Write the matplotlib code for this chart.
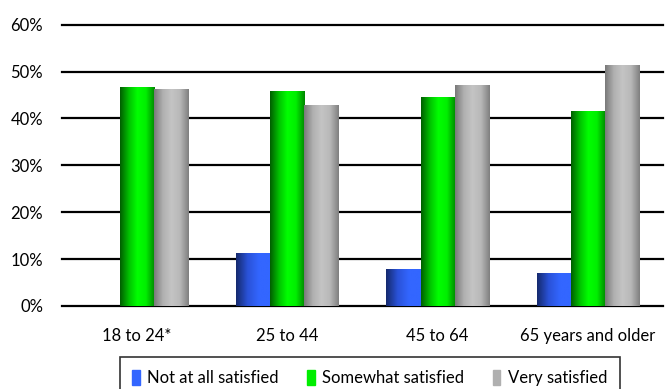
import numpy as np
import matplotlib.pyplot as plt
from matplotlib.colors import LinearSegmentedColormap
from matplotlib.patches import Rectangle

plt.rcParams['font.family'] = ['Lato', 'DejaVu Sans']

categories = ['18 to 24*', '25 to 44', '45 to 64', '65 years and older']
series_names = ['Not at all satisfied', 'Somewhat satisfied', 'Very satisfied']
not_at_all = [0.0, 11.2, 7.9, 7.0]
somewhat = [46.7, 45.9, 44.6, 41.6]
very = [46.3, 42.9, 47.1, 51.4]
yticks = [0, 10, 20, 30, 40, 50, 60]

# horizontal gradients (left -> right) to imitate the shaded bars
grads = [
    LinearSegmentedColormap.from_list('b', ['#152a6e', '#2a52d8', '#3366ff', '#3366ff']),
    LinearSegmentedColormap.from_list('g', ['#006000', '#00c000', '#00ff00', '#00ee00', '#008800']),
    LinearSegmentedColormap.from_list('k', ['#7a7a7a', '#b0b0b0', '#c4c4c4', '#b8b8b8', '#808080']),
]
flat = ['#3366ff', '#00ee00', '#b0b0b0']

fig = plt.figure(figsize=(6.65, 3.89), dpi=100)
ax = fig.add_axes([0.093, 0.2134, 0.904, 0.7256])

x = np.arange(len(categories))
w = 0.227
grad = np.linspace(0, 1, 64).reshape(1, -1)
for i, vals in enumerate([not_at_all, somewhat, very]):
    bars = ax.bar(x + (i - 1) * w, vals, width=w, color=flat[i], zorder=3, linewidth=0)
    for b in bars:
        if b.get_height() <= 0:
            continue
        x0, y0 = b.get_x(), b.get_y()
        im = ax.imshow(grad, cmap=grads[i], aspect='auto', zorder=4,
                       extent=[x0, x0 + b.get_width(), y0, y0 + b.get_height()])
        im.set_clip_path(b)

ax.set_xlim(-0.5, 3.5)
ax.set_ylim(0, 60.2)
ax.set_yticks(yticks)
ax.set_yticklabels([f'{t}%' for t in yticks])
ax.set_xticks(x)
ax.set_xticklabels(categories)
for t in yticks:
    ax.axhline(t, color='black', lw=1.6, zorder=2, clip_on=False)
for s in ax.spines.values():
    s.set_visible(False)
ax.tick_params(axis='y', length=0, pad=13.5, labelsize=12)
ax.tick_params(axis='x', length=0, pad=16, labelsize=12)

handles = [Rectangle((0, 0), 1, 1, color=flat[i]) for i in range(3)]
leg = fig.legend(handles, series_names, loc='upper center', ncol=3,
                 bbox_to_anchor=(0.556, 0.082), fontsize=12, frameon=True,
                 fancybox=False, edgecolor='black', handlelength=0.45,
                 handleheight=1.0, handletextpad=0.45, columnspacing=1.7,
                 borderpad=0.75, borderaxespad=0)
leg.get_frame().set_linewidth(1.2)

fig.savefig('out.png', dpi=100)
